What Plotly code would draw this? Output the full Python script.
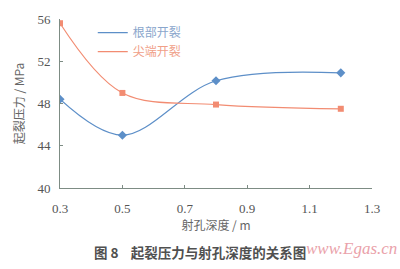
import plotly.graph_objects as go

depth = [0.3, 0.5, 0.8, 1.2]
root_crack = [48.4, 45.0, 50.15, 50.9]
tip_crack = [55.6, 49.0, 47.9, 47.5]
x_ticks = [0.3, 0.5, 0.7, 0.9, 1.1, 1.3]
y_ticks = [40, 44, 48, 52, 56]

blue = "#5d8fc8"
orange = "#f28c72"
axis_col = "#7d8c84"
serif = "Liberation Serif"
cjk = "Noto Sans CJK SC"

fig = go.Figure()
fig.add_trace(go.Scatter(x=depth, y=root_crack, mode="lines+markers",
                         line=dict(color=blue, width=1.2, shape="spline", smoothing=1.0),
                         marker=dict(symbol="diamond", size=7, color=blue),
                         showlegend=False))
fig.add_trace(go.Scatter(x=depth, y=tip_crack, mode="lines+markers",
                         line=dict(color=orange, width=1.2, shape="spline", smoothing=1.0),
                         marker=dict(symbol="square", size=6, color=orange),
                         showlegend=False))
fig.add_trace(go.Scatter(x=[None], y=[None], mode="lines",
                         name="<span style='color:#8aa6cc'>根部开裂</span>",
                         line=dict(color=blue, width=1.2)))
fig.add_trace(go.Scatter(x=[None], y=[None], mode="lines",
                         name="<span style='color:#f0a088'>尖端开裂</span>",
                         line=dict(color=orange, width=1.2)))

fig.update_layout(
    width=400, height=269,
    margin=dict(l=60, r=28, t=15, b=81),
    paper_bgcolor="white", plot_bgcolor="white",
    legend=dict(x=0.105, y=1.005, xanchor="left", yanchor="top",
                bgcolor="rgba(0,0,0,0)", itemwidth=30,
                font=dict(family=cjk, size=12, color="#8aa6cc"),
                tracegroupgap=0),
    annotations=[
        dict(text="<b>图 8    起裂压力与射孔深度的关系图</b>", xref="paper", yref="paper",
             x=0.45, y=-0.376, xanchor="center", yanchor="middle", showarrow=False,
             font=dict(family=cjk, size=13.5, color="#505050")),
        dict(text="<i>www.Egas.cn</i>", xref="paper", yref="paper",
             x=1.085, y=-0.36, xanchor="right", yanchor="middle", showarrow=False,
             font=dict(family=serif, size=17, color="#eaa2aa")),
    ],
)
fig.update_xaxes(range=[0.3, 1.3], tickvals=x_ticks, ticktext=[f"{v:.1f}" for v in x_ticks],
                 showgrid=False, zeroline=False, showline=True, linecolor=axis_col, linewidth=1,
                 ticks="inside", ticklen=3, tickcolor=axis_col, ticklabelstandoff=8,
                 tickfont=dict(family=serif, size=13, color="#555555"),
                 title=dict(text="射孔深度 / m", font=dict(family=cjk, size=12, color="#666666"), standoff=6))
fig.update_yaxes(range=[40, 56], tickvals=y_ticks,
                 showgrid=False, zeroline=False, showline=True, linecolor=axis_col, linewidth=1,
                 ticks="inside", ticklen=3, tickcolor=axis_col, ticklabelstandoff=6,
                 tickfont=dict(family=serif, size=13, color="#555555"),
                 title=dict(text="起裂压力 / MPa", font=dict(family=cjk, size=12, color="#666666"), standoff=10))

fig.write_html("out.html")
